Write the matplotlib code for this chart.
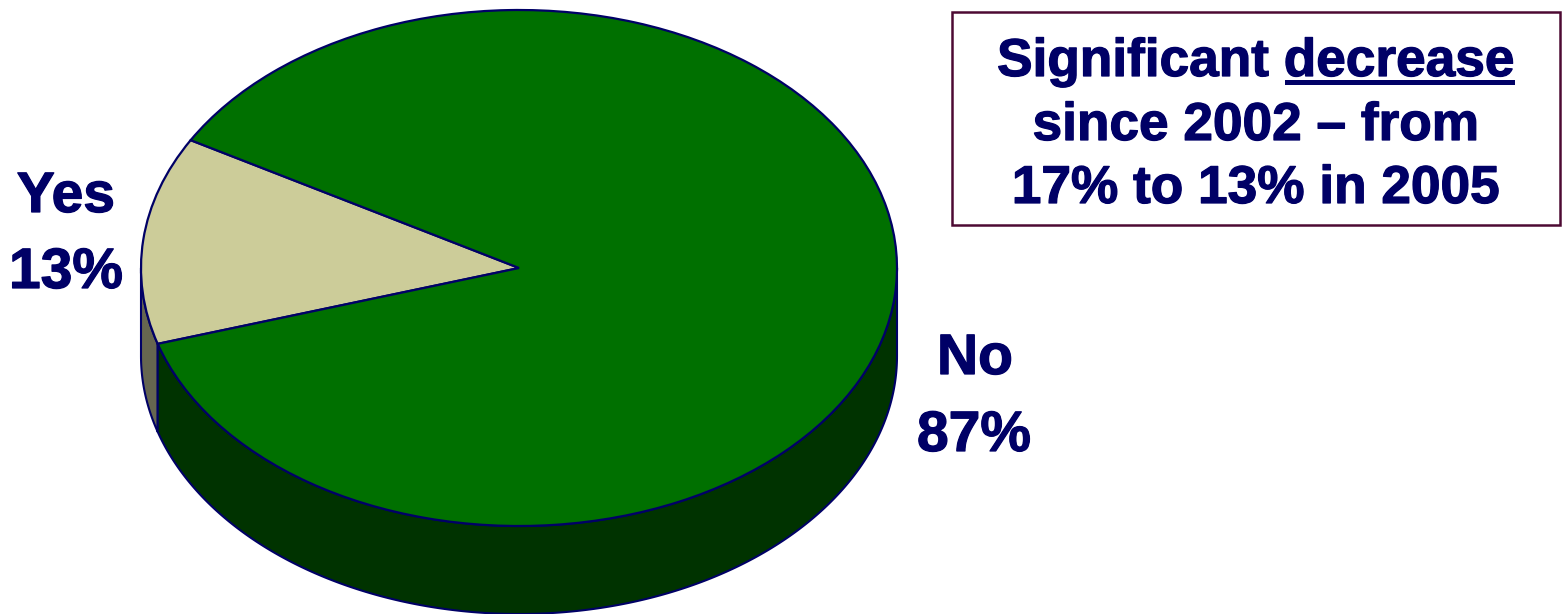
import numpy as np
import matplotlib
matplotlib.use("Agg")
import matplotlib.pyplot as plt
import matplotlib.patheffects as pe
from matplotlib.patches import Rectangle

labels = ["Yes", "No"]
values = [13, 87]
pct_labels = ["13%", "87%"]
note_lines = ["Significant decrease", "since 2002 \u2013 from", "17% to 13% in 2005"]

W, H = 1564, 614
CX, CY, RX, RY, DEPTH = 519, 268, 378, 258, 88
START = 150.3
NAVY = "#000066"
TOP = ["#CCCC99", "#007000"]
SIDE = ["#666650", "#003300"]

plt.rcParams["font.family"] = ["Liberation Sans", "DejaVu Sans"]
fig = plt.figure(figsize=(W / 100, H / 100), dpi=100, facecolor="white")
ax = fig.add_axes([0, 0, 1, 1])

def fx(x):
    return x / W
def fy(y):
    return 1 - y / H

d = DEPTH / RY
angles = START + np.cumsum([0] + values) * 3.6

# Visible part of the rim: only the front half (180-360 deg) of the ellipse
for i in range(len(values)):
    a0, a1 = max(angles[i], 180), min(angles[i + 1], 360)
    if a1 <= a0:
        continue
    t = np.radians(np.linspace(a0, a1, 300))
    xs = np.r_[np.cos(t), np.cos(t[::-1])]
    ys = np.r_[np.sin(t), np.sin(t[::-1]) - d]
    ax.fill(xs, ys, facecolor=SIDE[i], edgecolor=NAVY, linewidth=1.5, joinstyle="round", zorder=1)

wedges, _ = ax.pie(values, startangle=START, colors=TOP, radius=1, center=(0, 0),
                   wedgeprops=dict(edgecolor=NAVY, linewidth=1.6))
for w in wedges:
    w.set_zorder(2)

ax.set_aspect("auto")
ax.set_xlim(-CX / RX, (W - CX) / RX)
ax.set_ylim((CY - H) / RY, CY / RY)
ax.axis("off")

heavy = [pe.withStroke(linewidth=0.9, foreground=NAVY)]
label_fs = 41
for x, y, s in [(66, 197, labels[0]), (66, 273, pct_labels[0]),
                (975, 359, labels[1]), (974, 436, pct_labels[1])]:
    fig.text(fx(x), fy(y), s, ha="center", va="center", fontsize=label_fs,
             fontweight="bold", color=NAVY, path_effects=heavy)

fig.add_artist(Rectangle((fx(951.5), fy(225)), (1560 - 951.5) / W, (225 - 12.5) / H,
                         transform=fig.transFigure, facecolor="white",
                         edgecolor="#4D0A33", linewidth=1.8))
note_fs = 38.3
for line, y in zip(note_lines, [62, 126, 189]):
    fig.text(fx(1256), fy(y), line, ha="center", va="center", fontsize=note_fs,
             fontweight="bold", color=NAVY, path_effects=heavy)
fig.add_artist(Rectangle((fx(1285), fy(85)), 230 / W, 5 / H, transform=fig.transFigure,
                         facecolor=NAVY, edgecolor="none"))

fig.savefig("out.png", dpi=100, facecolor="white")
